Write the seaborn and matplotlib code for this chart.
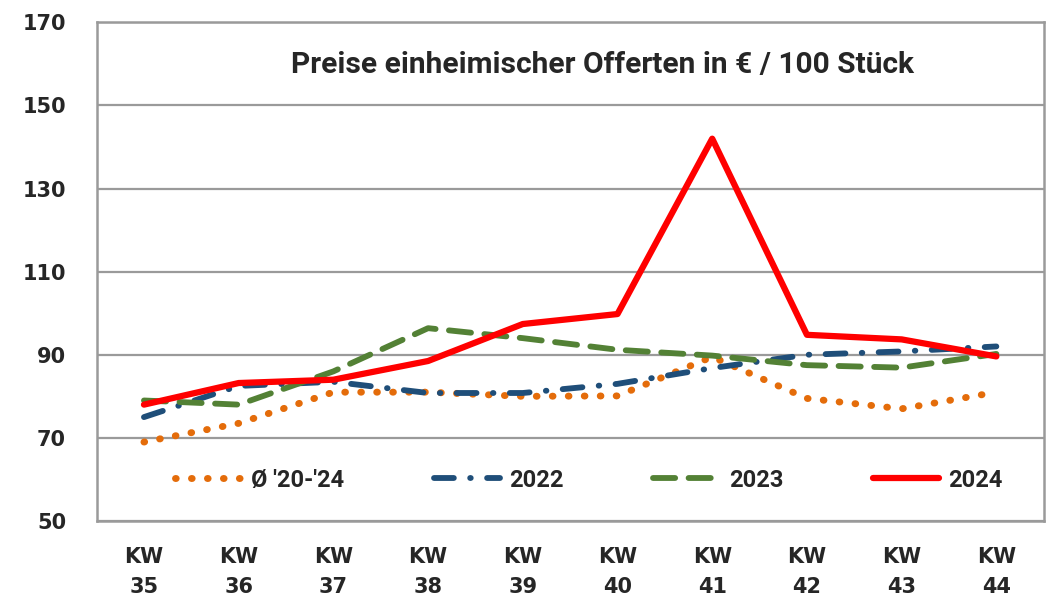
import matplotlib
matplotlib.use("Agg")
import matplotlib.pyplot as plt
import seaborn as sns
import pandas as pd

# Kalenderwochen und Preise (€ / 100 Stück)
wochen = ["KW\n35", "KW\n36", "KW\n37", "KW\n38", "KW\n39",
          "KW\n40", "KW\n41", "KW\n42", "KW\n43", "KW\n44"]
schnitt_20_24 = [69, 73.5, 81, 81, 80, 80.1, 89.5, 79.5, 77, 81]
preise_2022 = [75, 82.5, 83.5, 80.8, 80.8, 83, 86.8, 90, 90.8, 92]
preise_2023 = [79, 78, 86, 96.4, 94, 91.2, 89.8, 87.5, 86.9, 90.2]
preise_2024 = [78, 83.2, 84, 88.5, 97.4, 99.8, 142, 94.8, 93.7, 89.6]

serien = ["Ø '20-'24", "2022", "2023", "2024"]
farben = ["#E46C0A", "#1F4E79", "#538135", "#FF0000"]

df = pd.DataFrame({
    "woche": wochen * 4,
    "pos": list(range(len(wochen))) * 4,
    "preis": schnitt_20_24 + preise_2022 + preise_2023 + preise_2024,
    "serie": [s for s in serien for _ in wochen],
})

sns.set_style("white")
plt.rcParams["font.family"] = ["DejaVu Sans"]
schmal = ["Roboto", "DejaVu Sans"]

fig, ax = plt.subplots(figsize=(10.5, 6.03), dpi=100)
fig.subplots_adjust(left=0.092, right=0.994, top=0.963, bottom=0.136)

ax.set_axisbelow(True)
ax.yaxis.grid(True, color="#9A9A9A", linewidth=1.6)

sns.lineplot(data=df, x="pos", y="preis", hue="serie", palette=farben,
             hue_order=serien, linewidth=4.2, ax=ax, legend=False, sort=False)

linien = ax.get_lines()
linien[0].set_linewidth(5)
linien[0].set_linestyle((0, (0.1, 2.2)))
linien[0].set_dash_capstyle("round")
linien[1].set_linestyle((0, (3.4, 2.8, 0.1, 2.8)))
linien[1].set_dash_capstyle("round")
linien[2].set_linestyle((0, (3.8, 2.3)))
linien[2].set_dash_capstyle("round")
linien[3].set_linewidth(4.5)
for l in linien:
    l.set_solid_capstyle("round")

ax.set_xlim(-0.5, len(wochen) - 0.5)
ax.set_ylim(50, 170)
ax.set_yticks(range(50, 171, 20))
ax.set_xticks(range(len(wochen)))
ax.set_xticklabels(wochen, fontsize=15, fontweight="bold", linespacing=1.6)
ax.set_xticks([i - 0.5 for i in range(len(wochen) + 1)], minor=True)
ax.tick_params(axis="x", which="major", length=0, pad=19)
ax.tick_params(axis="x", which="minor", length=8, width=1.6, color="#9A9A9A", direction="out")
ax.tick_params(axis="y", length=8, width=1.6, color="#9A9A9A", direction="out",
               labelsize=15, pad=14)
for t in ax.get_yticklabels():
    t.set_fontweight("bold")
ax.set_xlabel("")
ax.set_ylabel("")
for s in ax.spines.values():
    s.set_color("#9A9A9A")
    s.set_linewidth(1.8)
    s.set_visible(True)

ax.text(0.534, 0.915, "Preise einheimischer Offerten in € / 100 Stück",
        transform=ax.transAxes, ha="center", va="center",
        fontsize=21.5, fontweight="bold", family=schmal)

leg = ax.legend(linien, serien, loc="center", bbox_to_anchor=(0.52, 0.082),
                ncol=4, frameon=False, handlelength=2.8, columnspacing=3.8,
                handletextpad=0.4,
                prop={"weight": "bold", "size": 17, "family": schmal})

fig.savefig("out.png", dpi=100)
